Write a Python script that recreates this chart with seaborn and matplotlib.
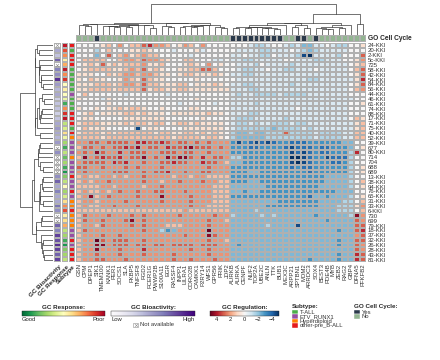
import numpy as np
import pandas as pd
import matplotlib
matplotlib.use("Agg")
import matplotlib.pyplot as plt
import seaborn as sns
from matplotlib.colors import ListedColormap, Normalize
from matplotlib.cm import ScalarMappable
from matplotlib.patches import Rectangle

# genes (columns) and samples (rows)
genes = ["GSN", "CPM", "DPEP1", "SIK1", "TMEM100", "KANK1", "PER1", "SOCS1", "SLA", "FKBP5",
         "TNFSF8", "FGD2", "FCER1G", "PWWP2B", "S100A11", "EGR", "RASSF4", "INPP1", "LILRA1",
         "CORO2B", "CAMKK1", "P2RY14", "WFS1", "GPR56", "PRIK", "JDP2", "AURKB", "AURKA",
         "CENPF", "NUF2", "TOP2A", "UBE2C", "ANLN", "TTK", "BUB1", "MEX3C", "ARPP21", "SPTBN1",
         "MDM2", "ARRDC3", "SOX4", "BEST3", "PDE4B", "MYB", "ZEB2", "RAG2", "GBP4", "DFNA5", "PFKFB2"]
samples = ["24-KKI", "20-KKI", "2-KKI", "5c-KKI", "725", "58-KKI", "42-KKI", "54-KKI", "84-KKI",
           "56-KKI", "44-KKI", "46-KKI", "61-KKI", "74-KKI", "88-KKI", "17-KKI", "71-KKI", "75-KKI",
           "40-KKI", "52-KKI", "39-KKI", "677", "80-KKI", "714", "704", "688", "689", "13-KKI",
           "38-KKI", "94-KKI", "76-KKI", "65-KKI", "31-KKI", "33-KKI", "6-KKI", "730", "699",
           "79-KKI", "18-KKI", "37-KKI", "32-KKI", "26-KKI", "28-KKI", "43-KKI", "81-KKI"]

# GC regulation, coded a..q in steps of 0.75 around i = 0
SCALE = "abcdefghijklmnopq"
STEP = 0.75
# first 26 genes (up-regulated block)
reg_up = [
    "iiiijkilikkmnllkijlkiliiii", "iiigikiiijjkjiiihiiijhiiii", "iiifimikljklkkiiiiihiiiiii",
    "ikkkkiikllkmllkjiikkiiihhi", "ijkjmjkjkkkljjkiiijkjiliji", "ijkkkkjjklkmjkjiijjkkmmkii",
    "jjjiikjkllkllkjjijkkjjjkji", "jikjjiijlkjmkjjiiiiijiiiii", "jjjkkkjkllkmkkjjjkkijjjkji",
    "jjkkkkjkkkkmjkkjjkkjjjjjjj", "ikiiiiiihiiiiiihiiiiiiiiii", "jiiihjiiiiiiiiiiiiiijiiiii",
    "iiiiijiiiiiiiiiiihiiiiihii", "jiijijjkjkkjiijiiiijjiiiii", "ijkijjjjkkjkjjjijjjjjjkjji",
    "ijjiiiiijjjjjjjiiiiiijiiii", "jkkkjjjjkjkkjkkijkkjkjjjji", "ikjjjiiiiicijjiiiijjjjjjji",
    "jkkkjkjkkkkkkjkkjjkkjkjkji", "kkkkjkkkkkkkkkkkjkkkkjkkji", "llmmlmmmmlnnmmnmlmmlmlmlll",
    "kmmlmlmmnmolmmlnmmnommmlml", "lmlomllnlmmmllmmmlmmllmlll", "kolmnmmnlmmolmlomoomlnlmml",
    "lmmmmlnmnllmllmmnmmllnmmlk", "mmllmlllmlmlllmlllllllmlll", "lmllllmmmllmlmmnllmllmmlll",
    "klkkllklkllmllllkllkllkkkk", "klkllmlllllmllkllmlllmllkk", "kkkkllkllllkllmllllllllkkk",
    "klkklklmllmllmmlllmllllkkk", "kloklmllllmlllollllmlllkkk", "kllkllllmlllllmllllmlllkkk",
    "klkkllmlllmllllllllmllkkkk", "kkkkkkkkkkkkkkkkkklkkkkkkk", "kmlllmlllmlmlllllmlllllmll",
    "kmllmlllmolmllllllllllmllk", "kllkmllllmlmlllkkkllllmlll", "kmlllllllllmllgeflllllplll",
    "klllmllmllllllllllmlllomll", "kllpmlmmmllmllllllllllmllk", "klloolmmmlmmlmmlmmmmlmmmll",
    "kllolllmlllnlllllllmllmlll", "kllmlllmlllmllllmlllllmlll", "kllmmlllmlllllllmllmlllmll",
]
# next 21 genes (down-regulated block)
reg_down = [
    "iiihgghiihghffhhihggi", "ihhhhgghhhihgfghhhhhi", "hhihhggihhhgcbhhhhgii",
    "hhgghhhhhiihhhgghhhii", "ihhhgihhhhghhhhhhhhhi", "ihgghhihhgghhhihhhhhi",
    "hhgghhhhhhhhhhhhhhhhi", "ihhhhhhhhhhhhgghhhhhh", "hhgghhhhhhghhhhhhhhhi",
    "hhhgghhhhhhhhhhhhhhhi", "hghhgggghgggghhhhhhhi", "hhhhhhhhhhhhhhhhhhhhh",
    "hhhhghhhhhhhhhhhhhhhi", "hhhhhhhhhhhihhhhhhhhi", "hhhgghhhhhhhhhhhhhhhi",
    "hggghhhhhghhhhhhhhhhi", "hgghghhggghgghhhhhhhh", "hggggggfgggghghhhhhhh",
    "gffgffgggmgggghgggghh", "gfffffgggggggghgggghh", "ecedcdcdeedddeeeeeeff",
    "eeeddeeeedcdddeddeeef", "eeeeeeeeeecdcdeddeeeg", "ggeeeeeeeebbcdeecdddg",
    "ffeeeeeeeecbcdeeeddeg", "eeeeeeeeeededdeeeeeeg", "eeeffeeeeeeeedeeeeeeg",
    "eeeeeeeeeeeeeeeeffffg", "eeeffeeeeeeeeeeeffffg", "ffffffeeeeeeeeefffffg",
    "ffeffeeeeeeeeeeeeefff", "eeeeeeeeeeeeedffefffg", "ffffffffeeeeeeeffffgg",
    "ffffffeeeeeeeeefffggg", "ffffgfffffffffffffggg", "gffffgfgffffffefffffg",
    "ffffffffffffffffeffff", "ffffffgffffcfffffffff", "ffffffffffffffffffeff",
    "fffffffffffffffffffff", "ffffffffffffffffffeff", "feffffffffffffffffeff",
    "fffffffffffffffffffff", "ffffffffffffffffffeff", "fffffffffffffeffffeff",
]
# DFNA5, PFKFB2
reg_tail = ["ij", "ii", "im", "jl", "jk", "km", "jm", "jn", "jm", "kl", "ii", "ii", "ij", "ii", "ii",
            "kj", "jk", "jk", "kk", "kk", "ii", "ij", "ni", "ii", "ii", "ij", "ij", "ii", "ik", "ij",
            "ii", "ij", "ik", "jl", "ik", "ol", "ml", "mm", "mn", "lm", "mm", "ml", "ml", "nm", "nm"]

# row annotations
gc_bioactivity = [np.nan, .45, .35, .7, np.nan, .6, .55, .85, .5, .4, .45, .3, .35, .35, .3, .35, .45,
                  .5, .45, .4, .5, np.nan, .55, np.nan, np.nan, np.nan, np.nan, .55, .7, .45, .6,
                  .45, .45, .65, .55, np.nan, np.nan, .7, .6, .8, .75, .85, .8, .7, .8]
gc_response = [.95, .85, .75, .55, .7, .95, .75, .9, .5, .55, .5, .45, .15, .75, .9, .95, .35, .4,
               .6, .45, .3, .15, .35, .2, .3, .15, .1, .25, .35, .5, .3, .4, .6, .75, .85, .55, .6,
               .7, .35, .3, .15, .1, .25, .3, .35]
subtype = list("OTOOOTTTTTETTTOOOTOHEEEHEEEOEEOEHHOHHHEEOEOOO")
subtype_names = ["T-ALL", "ETV_RUNX1", "Hyperdiploid", "other-pre_B-ALL"]
subtype_codes = {"T": 0, "E": 1, "H": 2, "O": 3}
subtype_colors = ["#4daf4a", "#984ea3", "#ff7f00", "#e41a1c"]

# column annotation
go_cell_cycle = ["SIK1", "AURKB", "AURKA", "CENPF", "NUF2", "TOP2A", "UBE2C", "ANLN", "TTK", "BUB1",
                 "SPTBN1", "MDM2", "SOX4"]
go_colors = ["#2b3a4b", "#93b592"]  # Yes, No

assert all(len(r) == 26 for r in reg_up) and all(len(r) == 21 for r in reg_down)
reg = np.array([[(SCALE.index(c) - 8) * STEP for c in u + d + t]
                for u, d, t in zip(reg_up, reg_down, reg_tail)])
df = pd.DataFrame(reg, index=samples, columns=genes)

sns.set_theme(style="white")
plt.rcParams["font.family"] = ["Liberation Sans", "DejaVu Sans"]

W, H = 440, 360
fig = plt.figure(figsize=(W / 100, H / 100), dpi=100)


def px_ax(x0, y0, x1, y1):
    return fig.add_axes([x0 / W, 1 - y1 / H, (x1 - x0) / W, (y1 - y0) / H])


def adjacent_tree(X):
    # ward-like agglomeration restricted to neighbours, keeps the displayed order
    cl = [(np.asarray(x, float), 1, i + 0.5, 0.0) for i, x in enumerate(X)]
    links = []
    while len(cl) > 1:
        dists = [np.sqrt(2 * a[1] * b[1] / (a[1] + b[1])) * np.linalg.norm(a[0] - b[0])
                 for a, b in zip(cl[:-1], cl[1:])]
        k = int(np.argmin(dists))
        a, b = cl[k], cl[k + 1]
        h = max(dists[k], a[3], b[3])
        links.append((a[2], a[3], b[2], b[3], h))
        cl[k:k + 2] = [((a[0] * a[1] + b[0] * b[1]) / (a[1] + b[1]), a[1] + b[1], (a[2] + b[2]) / 2, h)]
    return links


line_kw = dict(color="#3a3a3a", lw=0.5)
grid_kw = dict(linewidths=0.35, linecolor="#b0b0b0", cbar=False)
P = 0.4  # compress dendrogram heights

# heatmap
ax = px_ax(76, 43, 366, 262)
sns.heatmap(df, cmap="RdBu_r", vmin=-5, vmax=5, ax=ax, xticklabels=True, yticklabels=True, **grid_kw)
ax.yaxis.tick_right()
ax.tick_params(length=0, pad=1)
ax.set_yticklabels(samples, rotation=0, fontsize=4.3, color="#333333")
ax.set_xticklabels(genes, rotation=90, fontsize=4.3, color="#333333")
ax.set_xlabel("")
ax.set_ylabel("")

# column dendrogram
axd = px_ax(76, 2, 366, 35)
for p1, h1, p2, h2, h in adjacent_tree(reg.T):
    axd.plot([p1, p1, p2, p2], [h1 ** P, h ** P, h ** P, h2 ** P], **line_kw)
axd.set_xlim(0, len(genes))
axd.set_ylim(0, None)
axd.axis("off")

# row dendrogram
axr = px_ax(18, 43, 53, 262)
for p1, h1, p2, h2, h in adjacent_tree(reg):
    axr.plot([h1 ** P, h ** P, h ** P, h2 ** P], [p1, p1, p2, p2], **line_kw)
axr.set_ylim(len(samples), 0)
axr.set_xlim(axr.get_xlim()[1], 0)
axr.axis("off")

# GO cell cycle bar
axg = px_ax(76, 35, 366, 41.5)
go = pd.DataFrame([[0 if g in go_cell_cycle else 1 for g in genes]])
sns.heatmap(go, cmap=ListedColormap(go_colors), vmin=-0.5, vmax=1.5, ax=axg,
            xticklabels=False, yticklabels=False, **grid_kw)
fig.text(368 / W, 1 - 38.5 / H, "GO Cell Cycle", fontsize=4.8, fontweight="bold", va="center")

# row annotation bars
ann = [("GC Bioactivity", 54, 60.5, pd.DataFrame({"v": gc_bioactivity}), "Purples", 0, 1),
       ("GC Response", 61.5, 67.5, pd.DataFrame({"v": gc_response}), "RdYlGn_r", 0, 1),
       ("Subtype", 68.5, 74.5, pd.DataFrame({"v": [subtype_codes[s] for s in subtype]}),
        ListedColormap(subtype_colors), -0.5, 3.5)]
for name, x0, x1, d, cmap, lo, hi in ann:
    a = px_ax(x0, 43, x1, 262)
    sns.heatmap(d, cmap=cmap, vmin=lo, vmax=hi, ax=a, xticklabels=False, yticklabels=False, **grid_kw)
    na = np.where(d["v"].isna())[0]
    a.scatter(np.full(len(na), 0.5), na + 0.5, marker="x", s=5, lw=0.4, color="#909090")
    fig.text((x1 - 1.5) / W, 1 - 264 / H, name, rotation=45, ha="right", va="top",
             fontsize=4.5, fontweight="bold", rotation_mode="anchor")

# legends
def add_cbar(x0, x1, cmap, lo, hi, title):
    cax = px_ax(x0, 311, x1, 316)
    cb = fig.colorbar(ScalarMappable(Normalize(lo, hi), cmap), cax=cax, orientation="horizontal")
    cb.outline.set_linewidth(0.3)
    cax.tick_params(length=0, labelsize=4.2, pad=1)
    fig.text((x0 + x1) / 2 / W, 1 - 307 / H, title, ha="center", va="center",
             fontsize=4.5, fontweight="bold")
    return cax


c1 = add_cbar(22, 105, "RdYlGn_r", 0, 1, "GC Response:")
c1.set_xticks([0, 1])
c1.set_xticklabels(["Good", "Poor"])
c1.get_xticklabels()[0].set_ha("left")
c1.get_xticklabels()[1].set_ha("right")
c2 = add_cbar(111, 195, "Purples", 0, 1, "GC Bioactivity:")
c2.set_xticks([0, 1])
c2.set_xticklabels(["Low", "High"])
c2.get_xticklabels()[0].set_ha("left")
c2.get_xticklabels()[1].set_ha("right")
c3 = add_cbar(210, 279, "RdBu_r", -5, 5, "GC Regulation:")
c3.set_xticks([4, 2, 0, -2, -4])
c3.set_xticklabels(["4", "2", "0", "\u22122", "\u22124"])
c3.invert_xaxis()

lg = fig.add_axes([0, 0, 1, 1], zorder=-1)
lg.set_xlim(0, W)
lg.set_ylim(H, 0)
lg.axis("off")
lg.add_patch(Rectangle((133, 322.5), 5, 4.5, fc="white", ec="#909090", lw=0.4))
lg.scatter([135.5], [324.75], marker="x", s=5, lw=0.4, color="#909090")
lg.text(140, 324.8, "Not available", fontsize=4.2, va="center", color="#333333")

lg.text(292, 306.5, "Subtype:", fontsize=4.5, fontweight="bold", va="center")
for i, (n, c) in enumerate(zip(subtype_names, subtype_colors)):
    y = 310 + i * 4.4
    lg.add_patch(Rectangle((292, y), 6, 4.4, fc=c, ec="white", lw=0.3))
    lg.text(299.5, y + 2.2, n, fontsize=4.2, va="center", color="#333333")
lg.text(354, 306.5, "GO Cell Cycle:", fontsize=4.5, fontweight="bold", va="center")
for i, (n, c) in enumerate(zip(["Yes", "No"], go_colors)):
    y = 310 + i * 4.4
    lg.add_patch(Rectangle((354, y), 6, 4.4, fc=c, ec="white", lw=0.3))
    lg.text(361.5, y + 2.2, n, fontsize=4.2, va="center", color="#333333")

fig.savefig("out.png", dpi=100)
